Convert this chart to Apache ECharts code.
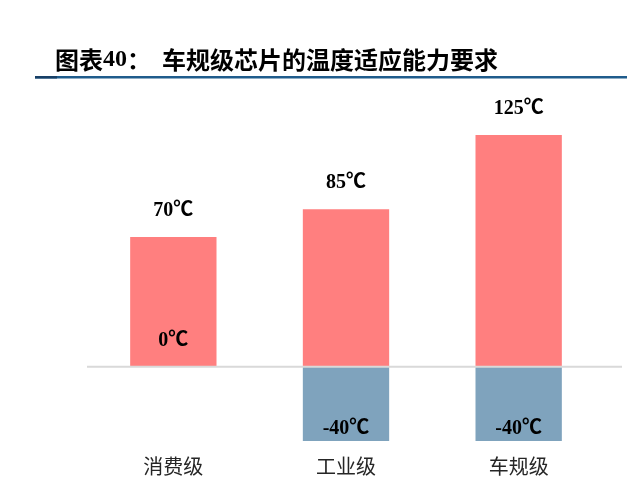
<!DOCTYPE html>
<html>
<head>
<meta charset="utf-8">
<script src="https://cdn.jsdelivr.net/npm/echarts@6/dist/echarts.min.js"></script>
<style>
html,body{margin:0;padding:0;background:#fff;}
#main{width:627px;height:498px;}
</style>
</head>
<body>
<div id="main"></div>
<script>
const categories = ['消费级', '工业级', '车规级'];
const maxTemps = [70, 85, 125];
const minTemps = [0, -40, -40];

const chart = echarts.init(document.getElementById('main'));
const labelFont = {
  fontFamily: '"Liberation Serif", "Times New Roman", "Noto Sans CJK SC", serif',
  fontWeight: 'bold',
  fontSize: 20,
  color: '#000'
};
chart.setOption({
  animation: false,
  backgroundColor: '#fff',
  title: {
    left: 50,
    top: 43,
    text: '{a|图表}{b|40}{a|：}{s| }{a|车规级芯片的温度适应能力要求}',
    textStyle: {
      rich: {
        a: { fontFamily: '"Noto Sans CJK SC", sans-serif', fontWeight: 'bold', fontSize: 24, color: '#000' },
        b: { fontFamily: '"Liberation Serif", serif', fontWeight: 'bold', fontSize: 24, color: '#000' },
        s: { width: 11, fontSize: 24 }
      }
    }
  },
  grid: { left: 87, right: 22, top: 135, bottom: 57 },
  xAxis: {
    type: 'category',
    data: categories,
    axisLine: { show: false, onZero: false },
    axisTick: { show: false },
    axisLabel: {
      margin: 15,
      fontSize: 20,
      color: '#262626',
      fontFamily: '"Noto Sans CJK SC", sans-serif'
    }
  },
  yAxis: {
    type: 'value',
    min: -40,
    max: 125,
    show: false,
    splitLine: { show: false }
  },
  series: [
    {
      type: 'bar',
      data: maxTemps,
      barWidth: '50%',
      barGap: '-100%',
      itemStyle: { color: '#FF7F7F' },
      label: Object.assign({ show: true, position: 'top', distance: 16, formatter: '{c}℃' }, labelFont)
    },
    {
      type: 'bar',
      data: minTemps.map(function (v) {
        return v === 0 ? { value: v, label: { position: 'top', distance: 16 } } : v;
      }),
      barWidth: '50%',
      itemStyle: { color: '#7FA3BD' },
      label: Object.assign({ show: true, position: 'insideBottom', distance: 2, formatter: '{c}℃' }, labelFont)
    }
  ]
});

const zeroY = chart.convertToPixel({ yAxisIndex: 0 }, 0);
chart.setOption({
  graphic: [
    { type: 'rect', shape: { x: 35, y: 76, width: 592, height: 2.5 }, style: { fill: '#1F5C8C' }, silent: true },
    { type: 'rect', shape: { x: 35, y: 76, width: 22, height: 2.5 }, style: { fill: '#173F66' }, silent: true },
    { type: 'line', shape: { x1: 87, y1: zeroY, x2: 622, y2: zeroY }, style: { stroke: '#D9D9D9', lineWidth: 2 }, silent: true, z: 10 }
  ]
});
</script>
</body>
</html>
